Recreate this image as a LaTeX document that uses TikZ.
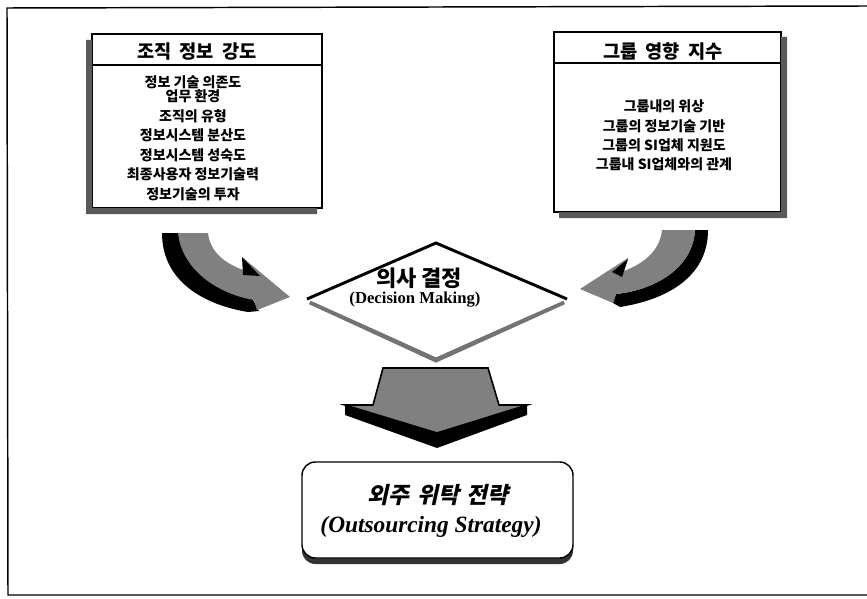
\documentclass[tikz,border=0pt]{standalone}
\usepackage{fontspec}
\setmainfont{Liberation Serif}
\newfontfamily\kr{Noto Sans CJK KR}
\newfontfamily\krit{Noto Sans CJK KR}[FakeSlant=0.22]
\newcommand\widesp[1]{\spaceskip=#1\relax}
\usetikzlibrary{calc}
\begin{document}
\begin{tikzpicture}[x=0.75pt,y=-0.75pt,
  boxline/.style={draw=black,line width=1.1pt},
  shadowfill/.style={fill=black!65},
  bandfill/.style={fill=black!50},
  hdr/.style={font=\kr\bfseries\fontsize{14}{16}\selectfont},
  lst/.style={font=\kr\bfseries\fontsize{10.5}{14.6}\selectfont,align=center,inner sep=0pt},
]
\useasboundingbox (0,0) rectangle (867,599);
% outer frame (open on the right)
\draw[line width=1.1pt] (867,6) -- (7,8) -- (8,595) -- (867,595);

% ---- left box ----
\draw[boxline,fill=white] (92,34) rectangle (322,208);
\fill[shadowfill] (86,40) -- (92,40) -- (92,208) -- (317,208) -- (317,214) -- (86,214) -- cycle;
\draw[boxline] (92,65) -- (322,65);
\node[hdr] (lh) at (197,52) {\widesp{0.45em}조직 정보 강도};
\node[lst] (ll) at (193,138) {정보 기술 의존도\\[-3.5pt]업무 환경\\조직의 유형\\정보시스템 분산도\\정보시스템 성숙도\\최종사용자 정보기술력\\정보기술의 투자};

% ---- right box ----
\draw[boxline,fill=white] (554,32) rectangle (781,212);
\fill[shadowfill] (781,37) -- (787,37) -- (787,218) -- (559,218) -- (559,212) -- (781,212) -- cycle;
\draw[boxline] (554,63) -- (781,63);
\node[hdr] (rh) at (663,51) {\widesp{0.45em}그룹 영향 지수};
\node[lst] (rl) at (664,135.5) {그룹내의 위상\\그룹의 정보기술 기반\\그룹의 SI업체 지원도\\그룹내 SI업체와의 관계};

% ---- left curved arrow ----
\fill[black] (162,233) -- (180,233) .. controls (182,268) and (215,290) .. (252,298)
  -- (259,311) -- (248,312) .. controls (205,305) and (162,282) .. (162,233) -- cycle;
\fill[bandfill] (208,233) .. controls (210,252) and (225,264) .. (246,271) -- (242,257)
  -- (290,297) -- (257,310) -- (254,300) .. controls (218,294) and (182,270) .. (178,233) -- cycle;
\fill[black] (242,257) -- (260,276) -- (243,275) -- cycle;

% ---- right curved arrow ----
\fill[black] (695,230) -- (708,230) .. controls (708,278) and (665,300) .. (620,307)
  -- (613,303) -- (616,294) .. controls (655,290) and (693,268) .. (695,230) -- cycle;
\fill[bandfill] (662,230) .. controls (660,250) and (645,263) .. (624,271) -- (628,258)
  -- (580,289) -- (613,303) -- (616,294) .. controls (655,290) and (693,268) .. (695,230) -- cycle;
\fill[black] (628,259) -- (612,272) -- (622,277) -- cycle;

% ---- decision diamond ----
\coordinate (dT) at (436,243);
\coordinate (dL) at (307,299);
\coordinate (dR) at (567,299);
\coordinate (dB) at (436,357);
\draw[black!55,line width=3.6pt] ($(dL)+(3,3)$) -- ($(dB)+(0,3)$) -- ($(dR)+(-3,3)$);
\fill[white] (dT) -- (dR) -- (dB) -- (dL) -- cycle;
\draw[line width=2.2pt,line join=miter] (dL) -- (dT) -- (dR);
\node[font=\kr\bfseries\fontsize{16.5}{18}\selectfont,inner sep=0pt] (dk) at (419,278) {의사 결정};
\node[font=\bfseries\fontsize{12.5}{14}\selectfont,inner sep=0pt] (de) at (415,300) {(Decision Making)};

% ---- down arrow ----
\filldraw[fill=black!50,draw=black,line width=1.2pt,line join=miter]
  (383,368) -- (488,368) -- (499,405) -- (527,405) -- (437,433) -- (345,405) -- (373,405) -- cycle;
\fill[black] (345,405) -- (437,433) -- (527,405) -- (527,415) -- (437,448) -- (345,415) -- cycle;

% ---- outcome box ----
\fill[black!80,rounded corners=10] (302,470) rectangle (573,564);
\draw[boxline,fill=white,rounded corners=10] (302,462) rectangle (573,558);
\node[font=\krit\bfseries\fontsize{17}{19}\selectfont,inner sep=0pt] (ok) at (438,495) {\widesp{0.35em}외주 위탁 전략};
\node[font=\bfseries\itshape\fontsize{17.5}{19}\selectfont,inner sep=0pt] (oe) at (431,527) {(Outsourcing Strategy)};
\end{tikzpicture}
\end{document}
